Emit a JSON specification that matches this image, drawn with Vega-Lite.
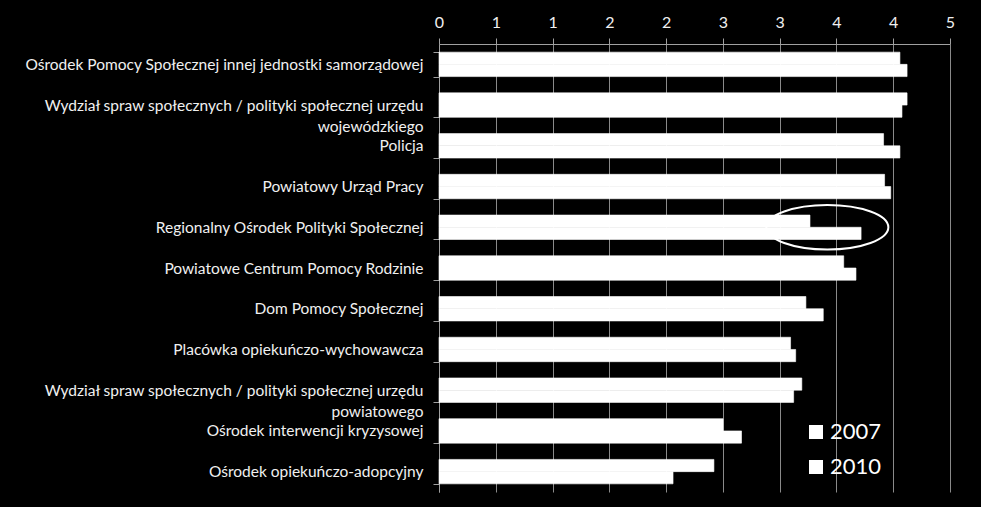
{
  "$schema": "https://vega.github.io/schema/vega-lite/v6.json",
  "width": 511,
  "height": 448,
  "autosize": "none",
  "padding": {"left": 439, "top": 44, "right": 31, "bottom": 15},
  "background": "#000000",
  "config": {
    "font": "Lato",
    "view": {"stroke": null}
  },
  "data": {
    "values": [
      {"category": "Ośrodek Pomocy Społecznej innej jednostki samorządowej", "year": "2007", "value": 4.51},
      {"category": "Ośrodek Pomocy Społecznej innej jednostki samorządowej", "year": "2010", "value": 4.58},
      {"category": "Wydział spraw społecznych / polityki społecznej urzędu wojewódzkiego", "year": "2007", "value": 4.58},
      {"category": "Wydział spraw społecznych / polityki społecznej urzędu wojewódzkiego", "year": "2010", "value": 4.53},
      {"category": "Policja", "year": "2007", "value": 4.35},
      {"category": "Policja", "year": "2010", "value": 4.51},
      {"category": "Powiatowy Urząd Pracy", "year": "2007", "value": 4.36},
      {"category": "Powiatowy Urząd Pracy", "year": "2010", "value": 4.42},
      {"category": "Regionalny Ośrodek Polityki Społecznej", "year": "2007", "value": 3.63},
      {"category": "Regionalny Ośrodek Polityki Społecznej", "year": "2010", "value": 4.13},
      {"category": "Powiatowe Centrum Pomocy Rodzinie", "year": "2007", "value": 3.96},
      {"category": "Powiatowe Centrum Pomocy Rodzinie", "year": "2010", "value": 4.08},
      {"category": "Dom Pomocy Społecznej", "year": "2007", "value": 3.59},
      {"category": "Dom Pomocy Społecznej", "year": "2010", "value": 3.76},
      {"category": "Placówka opiekuńczo-wychowawcza", "year": "2007", "value": 3.44},
      {"category": "Placówka opiekuńczo-wychowawcza", "year": "2010", "value": 3.49},
      {"category": "Wydział spraw społecznych / polityki społecznej urzędu powiatowego", "year": "2007", "value": 3.55},
      {"category": "Wydział spraw społecznych / polityki społecznej urzędu powiatowego", "year": "2010", "value": 3.47},
      {"category": "Ośrodek interwencji kryzysowej", "year": "2007", "value": 2.78},
      {"category": "Ośrodek interwencji kryzysowej", "year": "2010", "value": 2.96},
      {"category": "Ośrodek opiekuńczo-adopcyjny", "year": "2007", "value": 2.69},
      {"category": "Ośrodek opiekuńczo-adopcyjny", "year": "2010", "value": 2.29}
    ]
  },
  "encoding": {
    "y": {
      "field": "category",
      "type": "nominal",
      "sort": null,
      "title": null,
      "scale": {"paddingInner": 0.4, "paddingOuter": 0.2},
      "axis": {
        "orient": "left",
        "tickBand": "extent",
        "tickSize": 6,
        "tickColor": "#a0a0a0",
        "domainColor": "#a0a0a0",
        "labelColor": "#f0f0f0",
        "labelFontSize": 15.5,
        "labelPadding": 10,
        "labelLimit": 500,
        "labelLineHeight": 21,
        "grid": false,
        "labelExpr": "indexof(datum.label, 'urzędu ') >= 0 ? split(replace(datum.label, 'urzędu ', 'urzędu|'), '|') : datum.label"
      }
    },
    "x": {
      "field": "value",
      "type": "quantitative",
      "title": null,
      "scale": {"domain": [0, 5], "nice": false, "zero": true},
      "axis": {
        "orient": "top",
        "values": [0, 0.5556, 1.1111, 1.6667, 2.2222, 2.7778, 3.3333, 3.8889, 4.4444, 5],
        "format": ".0f",
        "tickSize": 6,
        "tickColor": "#a0a0a0",
        "domainColor": "#a0a0a0",
        "gridColor": "#8a8a8a",
        "grid": true,
        "labelColor": "#f0f0f0",
        "labelFontSize": 16,
        "labelPadding": 8,
        "labelFlush": false
      }
    }
  },
  "layer": [
    {
      "mark": {"type": "bar", "stroke": "#ffffff", "strokeWidth": 0.6},
      "encoding": {
        "yOffset": {"field": "year", "type": "nominal", "scale": {"paddingInner": 0, "paddingOuter": 0}},
        "fill": {
          "field": "year",
          "type": "nominal",
          "scale": {"domain": ["2007", "2010"], "range": ["#ffffff", "#ffffff"]},
          "legend": {
            "title": null,
            "orient": "none",
            "legendX": 366,
            "legendY": 377,
            "symbolType": "square",
            "symbolSize": 196,
            "symbolStrokeWidth": 0,
            "labelColor": "#ffffff",
            "labelFontSize": 22,
            "labelOffset": 3,
            "rowPadding": 13,
            "padding": 0
          }
        }
      }
    },
    {
      "transform": [
        {"filter": "datum.category == 'Regionalny Ośrodek Polityki Społecznej' && datum.year == '2007'"}
      ],
      "mark": {
        "type": "point",
        "shape": "M-1,0A1,0.365,0,1,1,1,0A1,0.365,0,1,1,-1,0Z",
        "size": 14884,
        "filled": false,
        "stroke": "#ffffff",
        "strokeWidth": 2,
        "opacity": 1
      },
      "encoding": {
        "x": {"datum": 3.8}
      }
    }
  ]
}
